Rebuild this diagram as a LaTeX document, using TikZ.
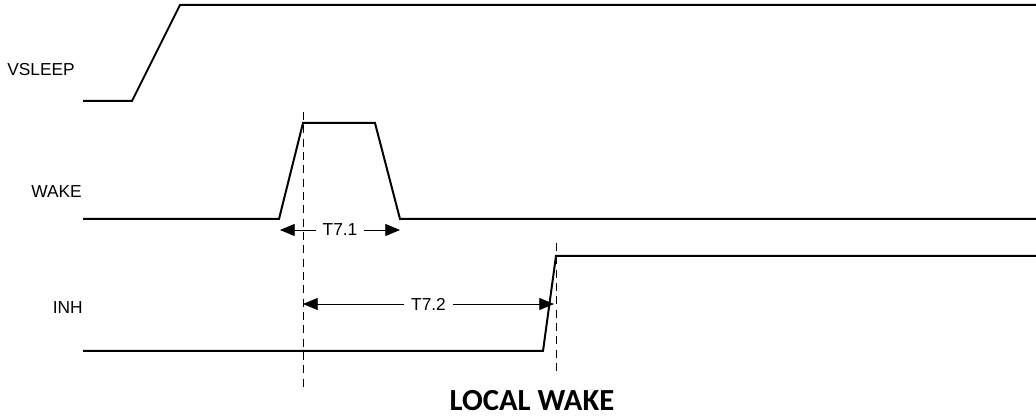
\documentclass[tikz,border=0pt]{standalone}
\usepackage{fontspec}
\setmainfont{Liberation Sans}
\newfontfamily\titlefont{Carlito}
\usetikzlibrary{arrows.meta}

\tikzset{
  sig/.style={line width=1.5pt, line join=miter},
  guide/.style={line width=0.6pt, dash pattern=on 6pt off 4pt},
  dim/.style={line width=0.6pt, {Triangle[length=11pt,width=9pt]}-{Triangle[length=11pt,width=9pt]}},
  lbl/.style={font=\fontsize{13}{15}\selectfont, inner sep=0pt}
}

\begin{document}
\begin{tikzpicture}[x=0.75pt, y=-0.75pt]
    \useasboundingbox (0,0) rectangle (1036,420);
    % labels
    \node[lbl, anchor=east] (VS) at (75,70) {VSLEEP};
    \node[lbl, anchor=east] (WK) at (82,192) {WAKE};
    \node[lbl, anchor=east] (IH) at (83,308) {INH};
    % VSLEEP
    \coordinate (V0) at (83,101);
    \coordinate (V1) at (132,101);
    \coordinate (V2) at (180,5);
    \coordinate (V3) at (1036,5);
    \draw[sig] (V0) -- (V1) -- (V2) -- (V3);
    % WAKE
    \coordinate (W0) at (83,219);
    \coordinate (W1) at (279,219);
    \coordinate (W2) at (303,123);
    \coordinate (W3) at (375,123);
    \coordinate (W4) at (400,219);
    \coordinate (W5) at (1036,219);
    \draw[sig] (W0) -- (W1) -- (W2) -- (W3) -- (W4) -- (W5);
    % INH
    \coordinate (I0) at (83,351);
    \coordinate (I1) at (543,351);
    \coordinate (I2) at (556,256);
    \coordinate (I3) at (1036,256);
    \draw[sig] (I0) -- (I1) -- (I2) -- (I3);
    % guides
    \coordinate (G1a) at (303,112);
    \coordinate (G1b) at (303,388);
    \coordinate (G2a) at (556,243);
    \coordinate (G2b) at (556,375);
    \path (G1a) edge[guide] (G1b);
    \path (G2a) edge[guide] (G2b);
    % timings
    \coordinate (A1) at (280,230);
    \coordinate (B1) at (400,230);
    \coordinate (A2) at (303,304);
    \coordinate (B2) at (554,304);
    \path (A1) edge[dim] node[lbl, fill=white, inner xsep=5pt] (T1) {T7.1} (B1);
    \path (A2) edge[dim] node[lbl, fill=white, inner xsep=5pt] (T2) {T7.2} (B2);
    % title
    \node[font=\titlefont\bfseries\fontsize{23}{26}\selectfont] (TT) at (532,401) {LOCAL WAKE};
\end{tikzpicture}
\end{document}
